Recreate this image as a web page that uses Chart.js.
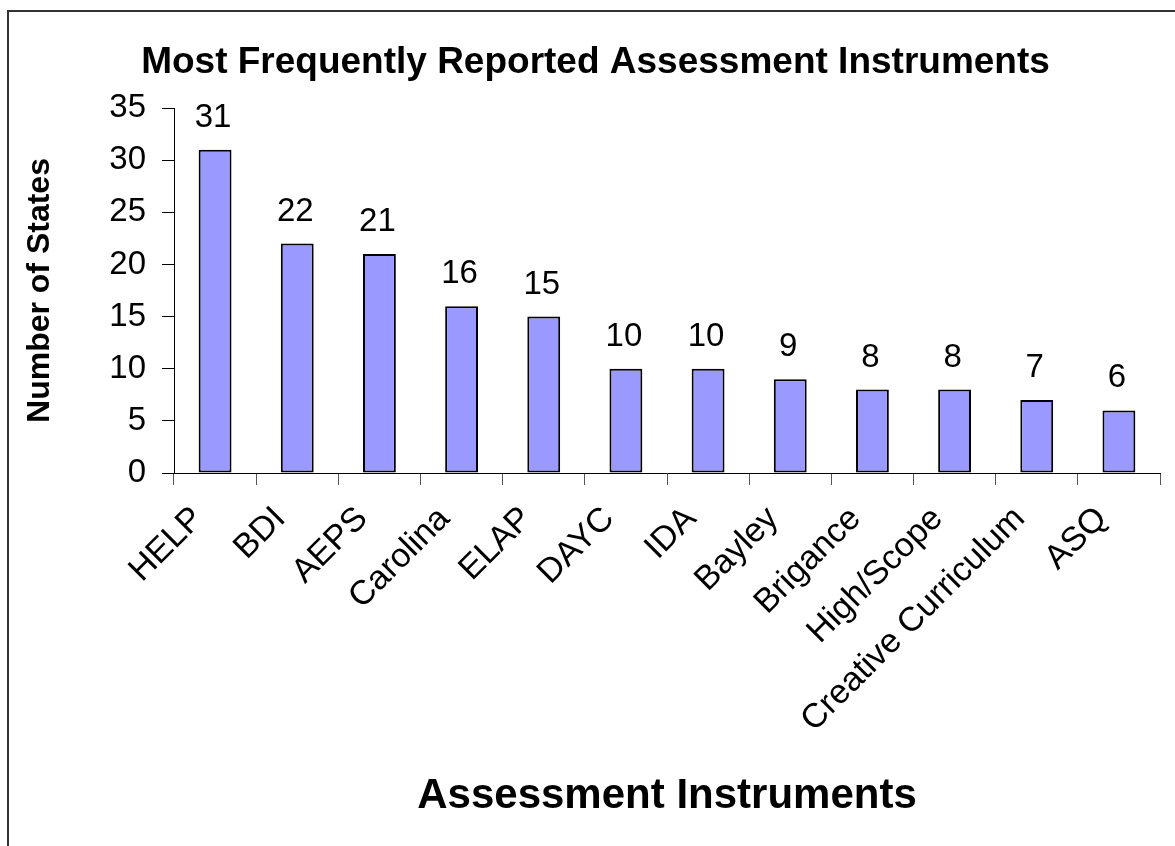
<!DOCTYPE html>
<html><head><meta charset="utf-8">
<script src="https://cdn.jsdelivr.net/npm/chart.js@4.4.1/dist/chart.umd.min.js"></script>
<style>
html,body{margin:0;padding:0;background:#fff;overflow:hidden;width:1175px;height:846px}
#frame{position:absolute;left:7px;top:10px;width:2000px;height:2000px;border-left:2px solid #333;border-top:2px solid #333;box-sizing:border-box}
#wrap{position:absolute;left:0;top:0;width:1175px;height:846px}
</style></head><body>
<div id="frame"></div>
<div id="wrap"><canvas id="c" width="1175" height="846"></canvas></div>
<script>
const categories = ["HELP","BDI","AEPS","Carolina","ELAP","DAYC","IDA","Bayley","Brigance","High/Scope","Creative Curriculum","ASQ"];
const values = [31,22,21,16,15,10,10,9,8,8,7,6];
const yMin = 0, yMax = 35, yStep = 5;
const chartTitle = "Most Frequently Reported Assessment Instruments";
const xTitle = "Assessment Instruments";
const yTitle = "Number of States";

const FONT = "'Liberation Sans', Arial, Helvetica, sans-serif";

const valueLabels = {
  id: 'valueLabels',
  afterDatasetsDraw(chart) {
    const ctx = chart.ctx;
    const meta = chart.getDatasetMeta(0);
    ctx.save();
    ctx.font = "33px " + FONT;
    ctx.fillStyle = "#000";
    ctx.textAlign = "center";
    ctx.textBaseline = "alphabetic";
    meta.data.forEach((bar, i) => {
      ctx.fillText(String(chart.data.datasets[0].data[i]), bar.x - 2, bar.y - 23);
    });
    ctx.restore();
  }
};

new Chart(document.getElementById('c'), {
  type: 'bar',
  data: {
    labels: categories,
    datasets: [{
      data: values,
      backgroundColor: '#9999FF',
      borderColor: '#000000',
      borderWidth: 2,
      borderSkipped: false,
      barPercentage: 0.4,
      categoryPercentage: 1.0
    }]
  },
  options: {
    responsive: false,
    animation: false,
    devicePixelRatio: 1,
    layout: { padding: { left: 31, right: 15, top: 0, bottom: 0 } },
    plugins: {
      legend: { display: false },
      tooltip: { enabled: false },
      title: {
        display: true,
        text: chartTitle,
        color: '#000',
        font: { family: FONT, size: 37, weight: 'bold', lineHeight: 1.2 },
        padding: { top: 41, bottom: 22.6 }
      }
    },
    scales: {
      x: {
        grid: { display: true, drawOnChartArea: false, drawTicks: true, tickLength: 12, offset: true, color: '#555', lineWidth: 1 },
        border: { display: true, color: '#000', width: 1 },
        ticks: { color: '#000', font: { family: FONT, size: 34 }, minRotation: 45, maxRotation: 45, autoSkip: false, padding: 14, labelOffset: -17 },
        title: { display: true, text: xTitle, color: '#000', font: { family: FONT, size: 42, weight: 'bold', lineHeight: 1.2 }, padding: { top: 0, bottom: 24 } },
        afterFit(scale) { scale.height = 373; }
      },
      y: {
        min: yMin, max: yMax,
        grid: { display: true, drawOnChartArea: false, drawTicks: true, tickLength: 12, color: '#000', lineWidth: 1 },
        border: { display: true, color: '#000', width: 1 },
        ticks: { stepSize: yStep, color: '#000', font: { family: FONT, size: 33 }, padding: 16 },
        title: { display: true, text: yTitle, color: '#000', font: { family: FONT, size: 32, weight: 'bold', lineHeight: 0.6 }, padding: { top: 0, bottom: 0 } },
        afterFit(scale) { scale.width = 143; }
      }
    }
  },
  plugins: [valueLabels]
});
</script>
</body></html>
